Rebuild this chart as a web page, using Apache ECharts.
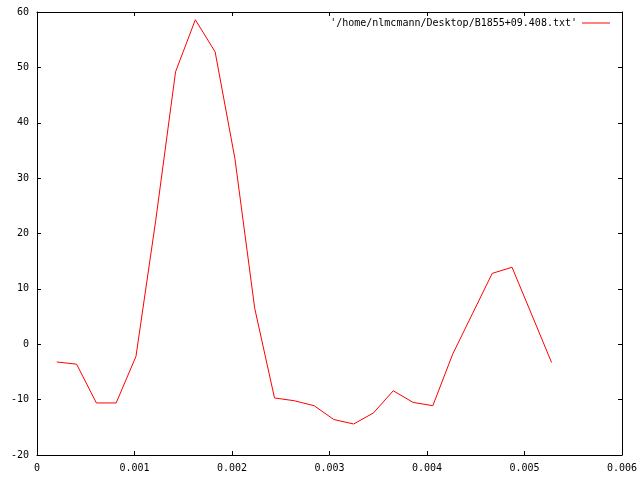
<!DOCTYPE html>
<html>
<head>
<meta charset="utf-8">
<script src="https://cdn.jsdelivr.net/npm/echarts@6/dist/echarts.min.js"></script>
<style>
html,body{margin:0;padding:0;background:#fff;}
#chart{width:640px;height:480px;}
</style>
</head>
<body>
<div id="chart"></div>
<script>
var seriesName = "'/home/nlmcmann/Desktop/B1855+09.408.txt'";
var xValues = [0.000203, 0.000406, 0.000609, 0.000812, 0.001015, 0.001218, 0.001421, 0.001624, 0.001827, 0.002030,
               0.002233, 0.002436, 0.002639, 0.002842, 0.003045, 0.003248, 0.003451, 0.003654, 0.003857, 0.004060,
               0.004263, 0.004466, 0.004669, 0.004872, 0.005075, 0.005278];
var yValues = [-3.2, -3.6, -10.6, -10.6, -2.2, 22.4, 49.2, 58.6, 52.8, 33.5,
               6.5, -9.7, -10.2, -11.1, -13.6, -14.4, -12.4, -8.4, -10.5, -11.1,
               -1.8, 5.5, 12.8, 13.9, 5.3, -3.3];
var xMin = 0, xMax = 0.006, xStep = 0.001;
var yMin = -20, yMax = 60, yStep = 10;

var font = 'DejaVu Sans Mono';
var data = xValues.map(function (x, i) { return [x, yValues[i]]; });

function xFmt(v) {
  if (Math.abs(v) < 1e-12) return '0';
  return v.toFixed(3);
}

var chart = echarts.init(document.getElementById('chart'), null, {renderer: 'canvas'});
var axisLine = {show: true, onZero: false, lineStyle: {color: '#000', width: 1}};
var tick = {show: true, inside: true, length: 4, lineStyle: {color: '#000', width: 1}};
chart.setOption({
  animation: false,
  backgroundColor: '#fff',
  grid: {left: 37, right: 18, top: 12, bottom: 25, outerBoundsMode: 'none', containLabel: false},
  legend: {
    right: 25, top: 13, align: 'right', orient: 'horizontal',
    itemWidth: 28, itemHeight: 1, itemGap: 0,
    textStyle: {fontFamily: font, fontSize: 10, color: '#000'},
    data: [{name: seriesName, icon: 'rect'}]
  },
  xAxis: [{
    type: 'value', min: xMin, max: xMax, interval: xStep, position: 'bottom',
    axisLine: axisLine, axisTick: tick, splitLine: {show: false},
    axisLabel: {margin: 8, fontFamily: font, fontSize: 10, color: '#000', formatter: xFmt}
  }, {
    type: 'value', min: xMin, max: xMax, interval: xStep, position: 'top',
    axisLine: axisLine, axisTick: tick, splitLine: {show: false}, axisLabel: {show: false}
  }],
  yAxis: [{
    type: 'value', min: yMin, max: yMax, interval: yStep, position: 'left',
    axisLine: axisLine, axisTick: tick, splitLine: {show: false},
    axisLabel: {margin: 8, fontFamily: font, fontSize: 10, color: '#000'}
  }, {
    type: 'value', min: yMin, max: yMax, interval: yStep, position: 'right',
    axisLine: axisLine, axisTick: tick, splitLine: {show: false}, axisLabel: {show: false}
  }],
  series: [{
    name: seriesName, type: 'line', xAxisIndex: 0, yAxisIndex: 0,
    data: data, symbol: 'none', showSymbol: false,
    lineStyle: {color: '#ff0000', width: 1}, itemStyle: {color: '#ff0000'},
    emphasis: {disabled: true}
  }]
});
</script>
</body>
</html>
